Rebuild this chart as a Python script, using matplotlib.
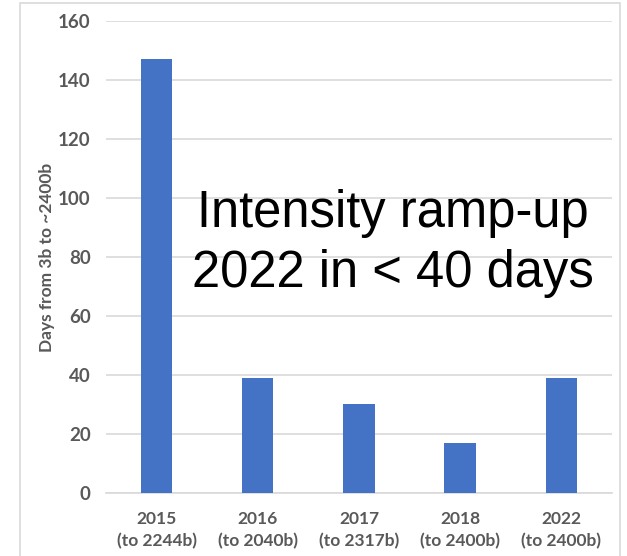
import matplotlib
matplotlib.use("Agg")
from matplotlib import pyplot as plt
from matplotlib.patches import Rectangle

# dni od 3b do ~2400b w kolejnych latach
years = ["2015", "2016", "2017", "2018", "2022"]
targets = ["(to 2244b)", "(to 2040b)", "(to 2317b)", "(to 2400b)", "(to 2400b)"]
days = [147, 39, 30, 17, 39]
yticks = [0, 20, 40, 60, 80, 100, 120, 140, 160]

labels = [y + "\n" + t for y, t in zip(years, targets)]
gray = "#595959"
grid = "#D9D9D9"

fig = plt.figure(figsize=(6.27, 5.56), dpi=100)
ax = fig.add_axes([0.169, 0.1133, 0.807, 0.849])

x = range(len(days))
ax.bar(x, days, width=0.31, color="#4472C4", zorder=3)

ax.set_ylim(0, 160)
ax.set_xlim(-0.5, len(days) - 0.5)
ax.set_yticks(yticks)
ax.set_xticks(list(x))
ax.set_xticklabels(labels, fontsize=12.5, fontweight="bold", color=gray,
                   family="Lato", linespacing=1.45)
ax.set_yticklabels([str(v) for v in yticks], fontsize=13.5, fontweight="bold",
                   color=gray, family="Lato")
ax.tick_params(axis="both", length=0)
ax.tick_params(axis="x", pad=13)
ax.tick_params(axis="y", pad=11)
ax.grid(axis="y", color=grid, linewidth=1.2, zorder=0)
for s in ["top", "right", "left"]:
    ax.spines[s].set_visible(False)
ax.spines["bottom"].set_color(grid)
ax.spines["bottom"].set_linewidth(1.2)

ax.set_ylabel("Days from 3b to ~2400b", fontsize=12.5, fontweight="bold",
              color=gray, family="Lato")
ax.yaxis.set_label_coords(-0.10, 0.5)

ax.text(0.568, 0.528, "Intensity ramp-up\n2022 in < 40 days", transform=ax.transAxes,
        ha="center", va="center", fontsize=36.5, family="Liberation Sans",
        color="black", linespacing=1.3, zorder=5)

# ramka wokół całego wykresu
fig.patches.append(Rectangle((20 / 627, -0.01), 600 / 627, 1 - 3 / 556 + 0.01,
                             transform=fig.transFigure, fill=False,
                             edgecolor=grid, linewidth=1.2))

fig.savefig("out.png", dpi=100)
